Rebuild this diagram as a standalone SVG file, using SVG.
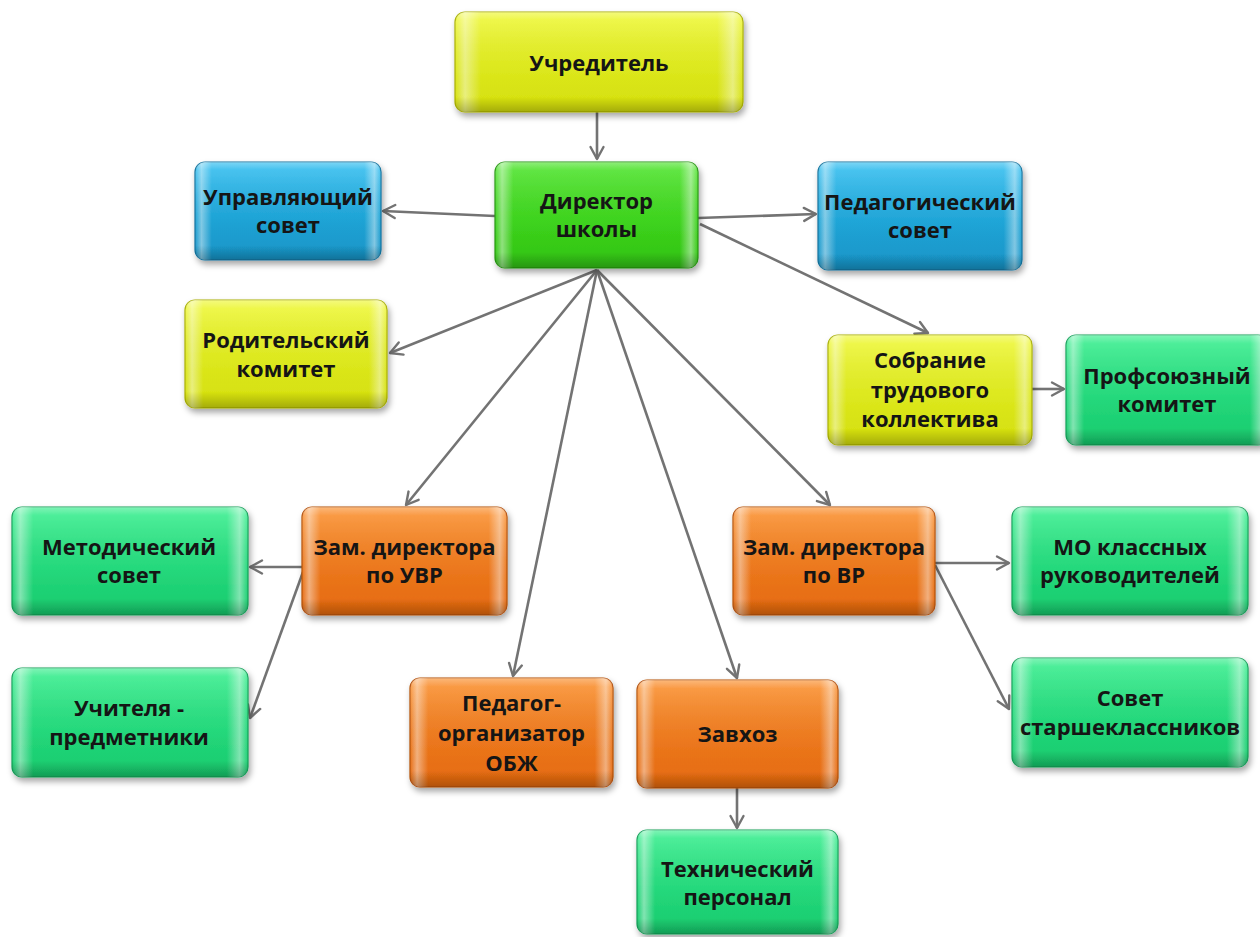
<svg xmlns="http://www.w3.org/2000/svg" width="1260" height="937" viewBox="0 0 1260 937">
  <defs>
    <style>
      .base { filter: url(#sh); stroke-width: 1.2; }
      .yel { fill: url(#gY); stroke: #a9b000; }
      .grn { fill: url(#gG); stroke: #23960e; }
      .blu { fill: url(#gB); stroke: #11729e; }
      .org { fill: url(#gO); stroke: #b4500a; }
      .tea { fill: url(#gT); stroke: #12a058; }
      .hl { fill: url(#gH); }
      .vl { fill: url(#gV); }
      .lbl { font-family: "Open Sans", "Noto Sans", "DejaVu Sans", sans-serif; font-weight: 700; font-size: 22px; fill: #151515; text-anchor: middle; }
      .con path { fill: none; stroke: #737373; stroke-width: 2.6; marker-end: url(#arr); }
    </style>
    <filter id="sh" x="-10%" y="-10%" width="125%" height="135%">
      <feDropShadow dx="2" dy="4" stdDeviation="3" flood-color="#000" flood-opacity="0.35"/>
    </filter>
    <linearGradient id="gY" x1="0" y1="0" x2="0" y2="1">
      <stop offset="0" stop-color="#eef73a"/>
      <stop offset="0.55" stop-color="#e2ee1c"/>
      <stop offset="1" stop-color="#d2dc0c"/>
    </linearGradient>
    <linearGradient id="gG" x1="0" y1="0" x2="0" y2="1">
      <stop offset="0" stop-color="#52e431"/>
      <stop offset="0.55" stop-color="#3dd81c"/>
      <stop offset="1" stop-color="#31c012"/>
    </linearGradient>
    <linearGradient id="gB" x1="0" y1="0" x2="0" y2="1">
      <stop offset="0" stop-color="#36bff0"/>
      <stop offset="0.55" stop-color="#1ea8dc"/>
      <stop offset="1" stop-color="#1892c4"/>
    </linearGradient>
    <linearGradient id="gO" x1="0" y1="0" x2="0" y2="1">
      <stop offset="0" stop-color="#fa9232"/>
      <stop offset="0.55" stop-color="#f27a1c"/>
      <stop offset="1" stop-color="#e2680e"/>
    </linearGradient>
    <linearGradient id="gT" x1="0" y1="0" x2="0" y2="1">
      <stop offset="0" stop-color="#3cee90"/>
      <stop offset="0.55" stop-color="#24de7e"/>
      <stop offset="1" stop-color="#18c86c"/>
    </linearGradient>
    <linearGradient id="gH" x1="0" y1="0" x2="1" y2="0">
      <stop offset="0" stop-color="#fff" stop-opacity="0"/>
      <stop offset="0.035" stop-color="#fff" stop-opacity="0.45"/>
      <stop offset="0.09" stop-color="#fff" stop-opacity="0"/>
      <stop offset="0.91" stop-color="#fff" stop-opacity="0"/>
      <stop offset="0.965" stop-color="#fff" stop-opacity="0.45"/>
      <stop offset="1" stop-color="#fff" stop-opacity="0"/>
    </linearGradient>
    <linearGradient id="gV" x1="0" y1="0" x2="0" y2="1">
      <stop offset="0" stop-color="#fff" stop-opacity="0.35"/>
      <stop offset="0.08" stop-color="#fff" stop-opacity="0.1"/>
      <stop offset="0.85" stop-color="#000" stop-opacity="0"/>
      <stop offset="1" stop-color="#000" stop-opacity="0.22"/>
    </linearGradient>
    <marker id="arr" markerUnits="userSpaceOnUse" markerWidth="18" markerHeight="18" refX="14" refY="8" orient="auto" viewBox="0 0 18 16">
      <path d="M2,1.5 L14,8 L2,14.5" fill="none" stroke="#737373" stroke-width="2.4" stroke-linecap="round" stroke-linejoin="round"/>
    </marker>
  </defs>

  <rect width="1260" height="937" fill="#ffffff"/>

  <g id="connectors" class="con">
    <path d="M597,112 L597,159"/>
    <path d="M495,216 L383,211"/>
    <path d="M698,218 L816,214"/>
    <path d="M700,224 L928,333"/>
    <path d="M597,270 L390,353"/>
    <path d="M597,270 L406,505"/>
    <path d="M597,270 L513,676"/>
    <path d="M597,270 L737,678"/>
    <path d="M597,270 L830,505"/>
    <path d="M1032,389 L1064,389"/>
    <path d="M302,567 L250,567"/>
    <path d="M303,572 L250,718"/>
    <path d="M935,563 L1009,563"/>
    <path d="M935,565 L1009,709"/>
    <path d="M737,788 L737,828"/>
  </g>

  <g id="n-uchreditel" transform="translate(455,12)">
    <rect class="base yel" width="288" height="100" rx="10"/>
    <rect class="hl" width="288" height="100" rx="10"/>
    <rect class="vl" width="288" height="100" rx="10"/>
    <text class="lbl" x="144" y="59">Учредитель</text>
  </g>

  <g id="n-direktor" transform="translate(495,162)">
    <rect class="base grn" width="203" height="106" rx="10"/>
    <rect class="hl" width="203" height="106" rx="10"/>
    <rect class="vl" width="203" height="106" rx="10"/>
    <text class="lbl" x="101.5" y="47">Директор</text>
    <text class="lbl" x="101.5" y="75">школы</text>
  </g>

  <g id="n-upravlyayushchiy" transform="translate(195,162)">
    <rect class="base blu" width="186" height="98" rx="10"/>
    <rect class="hl" width="186" height="98" rx="10"/>
    <rect class="vl" width="186" height="98" rx="10"/>
    <text class="lbl" x="93" y="43">Управляющий</text>
    <text class="lbl" x="93" y="71">совет</text>
  </g>

  <g id="n-pedsovet" transform="translate(818,162)">
    <rect class="base blu" width="204" height="108" rx="10"/>
    <rect class="hl" width="204" height="108" rx="10"/>
    <rect class="vl" width="204" height="108" rx="10"/>
    <text class="lbl" x="102" y="48">Педагогический</text>
    <text class="lbl" x="102" y="76">совет</text>
  </g>

  <g id="n-roditelskiy" transform="translate(185,300)">
    <rect class="base yel" width="202" height="108" rx="10"/>
    <rect class="hl" width="202" height="108" rx="10"/>
    <rect class="vl" width="202" height="108" rx="10"/>
    <text class="lbl" x="101" y="48">Родительский</text>
    <text class="lbl" x="101" y="77">комитет</text>
  </g>

  <g id="n-sobranie" transform="translate(828,335)">
    <rect class="base yel" width="204" height="110" rx="10"/>
    <rect class="hl" width="204" height="110" rx="10"/>
    <rect class="vl" width="204" height="110" rx="10"/>
    <text class="lbl" x="102" y="33">Собрание</text>
    <text class="lbl" x="102" y="63">трудового</text>
    <text class="lbl" x="102" y="92">коллектива</text>
  </g>

  <g id="n-profsoyuz" transform="translate(1066,335)">
    <rect class="base tea" width="202" height="110" rx="10"/>
    <rect class="hl" width="202" height="110" rx="10"/>
    <rect class="vl" width="202" height="110" rx="10"/>
    <text class="lbl" x="101" y="49">Профсоюзный</text>
    <text class="lbl" x="101" y="77">комитет</text>
  </g>

  <g id="n-metodsovet" transform="translate(12,507)">
    <rect class="base tea" width="236" height="108" rx="10"/>
    <rect class="hl" width="236" height="108" rx="10"/>
    <rect class="vl" width="236" height="108" rx="10"/>
    <text class="lbl" x="117" y="48">Методический</text>
    <text class="lbl" x="117" y="76">совет</text>
  </g>

  <g id="n-zam-uvr" transform="translate(302,507)">
    <rect class="base org" width="205" height="108" rx="10"/>
    <rect class="hl" width="205" height="108" rx="10"/>
    <rect class="vl" width="205" height="108" rx="10"/>
    <text class="lbl" x="102.5" y="48">Зам. директора</text>
    <text class="lbl" x="102.5" y="76">по УВР</text>
  </g>

  <g id="n-zam-vr" transform="translate(733,507)">
    <rect class="base org" width="202" height="108" rx="10"/>
    <rect class="hl" width="202" height="108" rx="10"/>
    <rect class="vl" width="202" height="108" rx="10"/>
    <text class="lbl" x="101" y="48">Зам. директора</text>
    <text class="lbl" x="101" y="76">по ВР</text>
  </g>

  <g id="n-mo" transform="translate(1012,507)">
    <rect class="base tea" width="236" height="108" rx="10"/>
    <rect class="hl" width="236" height="108" rx="10"/>
    <rect class="vl" width="236" height="108" rx="10"/>
    <text class="lbl" x="118" y="48">МО классных</text>
    <text class="lbl" x="118" y="76">руководителей</text>
  </g>

  <g id="n-uchitelya" transform="translate(12,668)">
    <rect class="base tea" width="236" height="109" rx="10"/>
    <rect class="hl" width="236" height="109" rx="10"/>
    <rect class="vl" width="236" height="109" rx="10"/>
    <text class="lbl" x="117" y="48">Учителя -</text>
    <text class="lbl" x="117" y="77">предметники</text>
  </g>

  <g id="n-obzh" transform="translate(410,678)">
    <rect class="base org" width="203" height="109" rx="10"/>
    <rect class="hl" width="203" height="109" rx="10"/>
    <rect class="vl" width="203" height="109" rx="10"/>
    <text class="lbl" x="101.5" y="33">Педагог-</text>
    <text class="lbl" x="101.5" y="63">организатор</text>
    <text class="lbl" x="101.5" y="93">ОБЖ</text>
  </g>

  <g id="n-zavhoz" transform="translate(637,680)">
    <rect class="base org" width="201" height="108" rx="10"/>
    <rect class="hl" width="201" height="108" rx="10"/>
    <rect class="vl" width="201" height="108" rx="10"/>
    <text class="lbl" x="100.5" y="62">Завхоз</text>
  </g>

  <g id="n-sovet-st" transform="translate(1012,658)">
    <rect class="base tea" width="236" height="109" rx="10"/>
    <rect class="hl" width="236" height="109" rx="10"/>
    <rect class="vl" width="236" height="109" rx="10"/>
    <text class="lbl" x="118" y="48">Совет</text>
    <text class="lbl" x="118" y="77">старшеклассников</text>
  </g>

  <g id="n-tehpersonal" transform="translate(637,830)">
    <rect class="base tea" width="201" height="104" rx="10"/>
    <rect class="hl" width="201" height="104" rx="10"/>
    <rect class="vl" width="201" height="104" rx="10"/>
    <text class="lbl" x="100.5" y="47">Технический</text>
    <text class="lbl" x="100.5" y="75">персонал</text>
  </g>
</svg>
